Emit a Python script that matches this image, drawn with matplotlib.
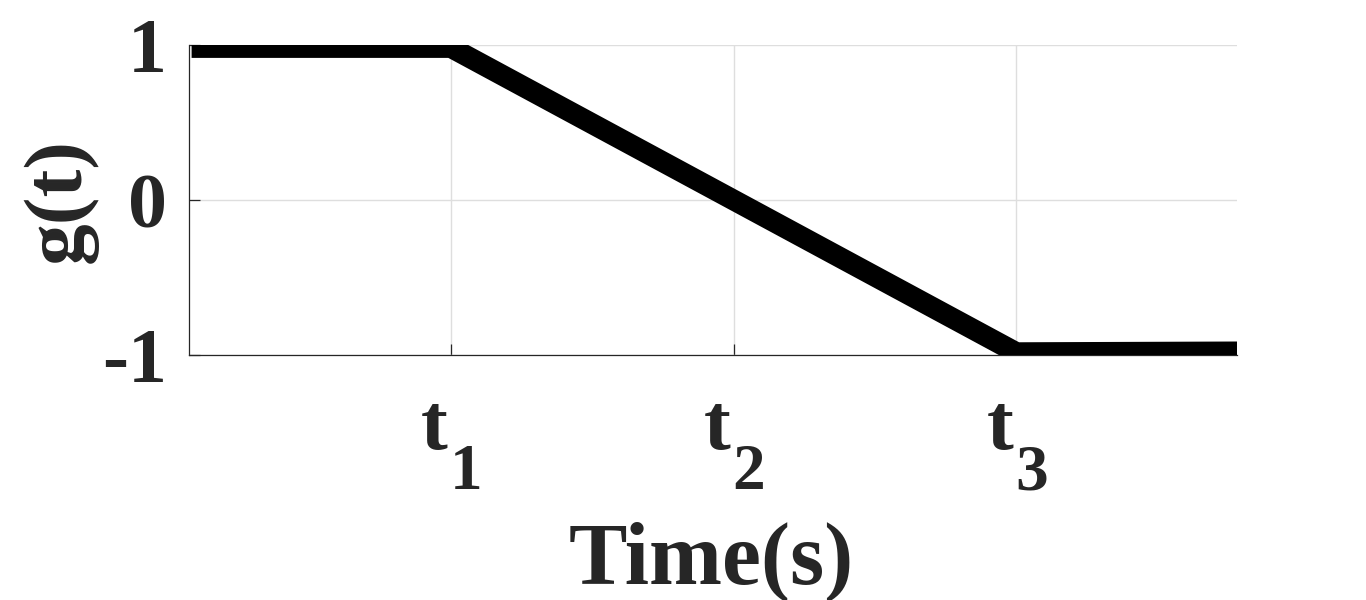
import matplotlib
matplotlib.use("Agg")
import matplotlib.pyplot as plt
import matplotlib.transforms as mtransforms

# piecewise signal g(t)
t_points = [0.083, 1.0, 3.0, 3.78]
g_points = [0.984, 0.984, -0.985, -0.98]

x_ticks = [1, 2, 3]
x_tick_base = ["t", "t", "t"]
x_tick_sub = ["1", "2", "3"]
y_ticks = [-1, 0, 1]
y_tick_labels = ["-1", "0", "1"]

plt.rcParams["font.family"] = "Liberation Serif"
plt.rcParams["font.weight"] = "bold"

text_color = "#262626"

fig = plt.figure(figsize=(13.66, 6), dpi=100)
ax = fig.add_axes([0.1384, 0.4083, 0.7672, 0.5167])

ax.plot(t_points, g_points, color="black", linewidth=15,
        solid_capstyle="butt", solid_joinstyle="miter", zorder=3)

ax.set_xlim(0.074, 3.78)
ax.set_ylim(-1, 1)
ax.set_xticks(x_ticks)
ax.set_xticklabels([""] * len(x_ticks))
ax.set_yticks(y_ticks)
ax.set_yticklabels(y_tick_labels)

ax.grid(True, color="#dedede", linewidth=1.0, zorder=0)
ax.set_axisbelow(True)

for side in ["top", "right"]:
    ax.spines[side].set_visible(False)
for side in ["left", "bottom"]:
    ax.spines[side].set_color(text_color)
    ax.spines[side].set_linewidth(0.9)

ax.tick_params(axis="both", direction="in", length=8, width=0.9,
               colors=text_color, labelsize=56)
ax.tick_params(axis="y", pad=16)

# x tick labels: "t" with a large, low subscript
xtrans = ax.get_xaxis_transform()
left_shift = mtransforms.offset_copy(xtrans, fig=fig, x=-3, y=0, units="dots")
right_shift = mtransforms.offset_copy(xtrans, fig=fig, x=-1, y=0, units="dots")
for xt, base, sub in zip(x_ticks, x_tick_base, x_tick_sub):
    ax.text(xt, -0.3032, base, transform=left_shift, ha="right", va="baseline",
            fontsize=58, fontweight="bold", color=text_color)
    ax.text(xt, -0.4323, sub, transform=right_shift, ha="left", va="baseline",
            fontsize=47, fontweight="bold", color=text_color)

ax.set_xlabel("Time(s)", fontsize=63, fontweight="bold", color=text_color)
ax.xaxis.label.set_va("baseline")
ax.xaxis.set_label_coords(0.4985, -0.7355)

ax.set_ylabel("g(t)", fontsize=60, fontweight="bold", color=text_color)
ax.yaxis.set_label_coords(-0.0868, 0.5)

fig.savefig("out.png", dpi=100, facecolor="white")
